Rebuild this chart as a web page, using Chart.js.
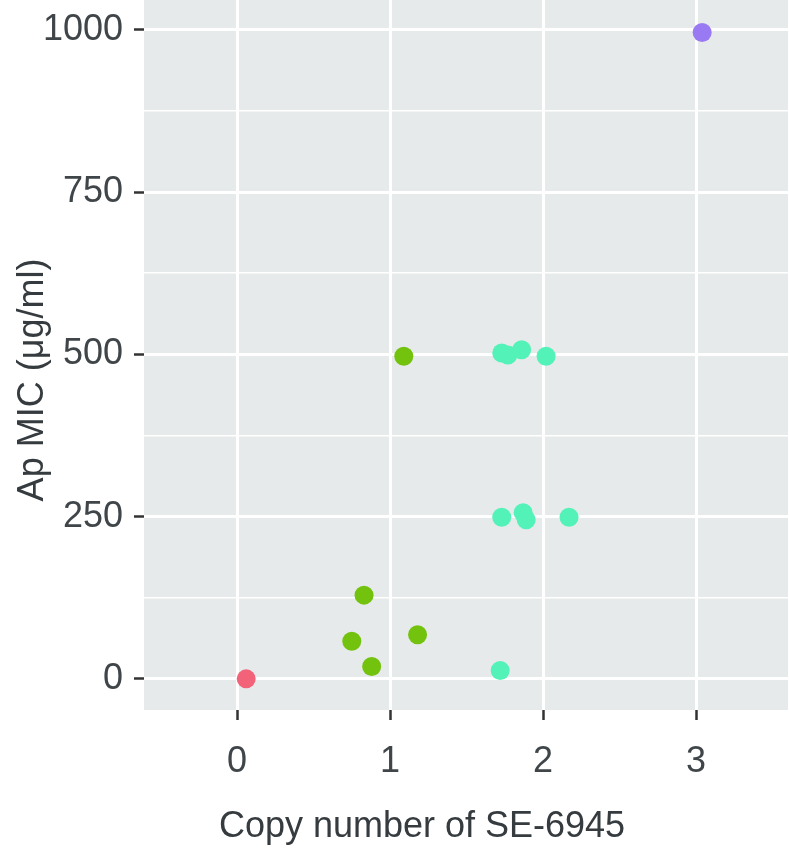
<!DOCTYPE html>
<html>
<head>
<meta charset="utf-8">
<script src="https://cdn.jsdelivr.net/npm/chart.js@4/dist/chart.umd.min.js"></script>
<style>
  html, body { margin: 0; padding: 0; background: #fff; }
  #chart { display: block; }
</style>
</head>
<body>
<canvas id="chart" width="789" height="848"></canvas>
<script>
// ==============================
// data
// ==============================
const pinkCopy = [0.06];
const pinkMic = [0];

const greenCopy = [0.75, 0.83, 0.88, 1.09, 1.18];
const greenMic = [58, 129, 19, 497, 68];

const tealCopy = [1.72, 1.73, 1.77, 1.86, 2.02, 1.73, 1.87, 1.89, 2.17];
const tealMic = [13, 502, 499, 507, 497, 249, 256, 245, 249];

const purpleCopy = [3.04];
const purpleMic = [996];

const xTicks = [0, 1, 2, 3];
const yTicks = [0, 125, 250, 375, 500, 625, 750, 875, 1000];
const yLabelled = [0, 250, 500, 750, 1000];

const xTitle = "Copy number of SE-6945";
const yTitle = "Ap MIC (\u03bcg/ml)";

// ==============================
// helpers
// ==============================
function toPoints(xs, ys) {
  return xs.map((x, i) => ({ x: x, y: ys[i] }));
}

function makeSet(xs, ys, color) {
  return {
    data: toPoints(xs, ys),
    backgroundColor: color,
    borderWidth: 0,
    pointRadius: 9.5,
    pointHoverRadius: 9.5
  };
}

const FONT = "'Liberation Sans', Arial, sans-serif";

// panel background
const panelBg = {
  id: "panelBg",
  beforeDraw(chart) {
    const { ctx, chartArea: a } = chart;
    ctx.save();
    ctx.fillStyle = "#E7EAEB";
    ctx.fillRect(a.left, a.top, a.right - a.left, a.bottom - a.top);
    ctx.restore();
  }
};

// axis titles (placed like the reference)
const axisTitles = {
  id: "axisTitles",
  afterDraw(chart) {
    const ctx = chart.ctx;
    ctx.save();
    ctx.fillStyle = "#353b3e";
    ctx.font = "36px " + FONT;
    ctx.textAlign = "center";
    ctx.textBaseline = "alphabetic";
    ctx.fillText(xTitle, 422, 837);

    ctx.translate(43, 380);
    ctx.rotate(-Math.PI / 2);
    ctx.font = "36px " + FONT;
    ctx.fillText(yTitle, 0, 0);
    ctx.restore();
  }
};

// no auto padding for the edge labels
function noPad(s) {
  s.paddingTop = 0;
  s.paddingBottom = 0;
  s.paddingLeft = 0;
  s.paddingRight = 0;
}

// ==============================
// chart
// ==============================
new Chart(document.getElementById("chart"), {
  type: "scatter",
  data: {
    datasets: [
      makeSet(pinkCopy, pinkMic, "#F2637A"),
      makeSet(greenCopy, greenMic, "#73C20E"),
      makeSet(tealCopy, tealMic, "#53F2B8"),
      makeSet(purpleCopy, purpleMic, "#9A7AF2")
    ]
  },
  options: {
    responsive: false,
    animation: false,
    layout: { autoPadding: false, padding: { top: 0, right: 1, left: 0, bottom: 0 } },
    plugins: {
      legend: { display: false },
      tooltip: { enabled: false }
    },
    scales: {
      x: {
        type: "linear",
        min: -0.608,
        max: 3.601,
        afterBuildTicks: s => { s.ticks = xTicks.map(v => ({ value: v })); },
        afterFit: s => { s.height = 138; noPad(s); },
        border: { display: false },
        grid: {
          color: "#ffffff",
          lineWidth: 3,
          tickColor: "#333333",
          tickWidth: 2.5,
          tickLength: 10
        },
        ticks: {
          padding: 20,
          color: "#3f4548",
          font: { family: FONT, size: 36 },
          maxRotation: 0,
          callback: v => String(v)
        }
      },
      y: {
        type: "linear",
        min: -48,
        max: 1046,
        afterBuildTicks: s => { s.ticks = yTicks.map(v => ({ value: v })); },
        afterFit: s => { s.width = 144; noPad(s); },
        border: { display: false },
        grid: {
          color: "#ffffff",
          lineWidth: c => (yLabelled.includes(c.tick.value) ? 3 : 1.6),
          tickColor: c => (yLabelled.includes(c.tick.value) ? "#333333" : "rgba(0,0,0,0)"),
          tickWidth: 2.5,
          tickLength: 10
        },
        ticks: {
          padding: 11,
          color: "#3f4548",
          font: { family: FONT, size: 36 },
          callback: v => (yLabelled.includes(v) ? String(v) : "")
        }
      }
    }
  },
  plugins: [panelBg, axisTitles]
});
</script>
</body>
</html>
